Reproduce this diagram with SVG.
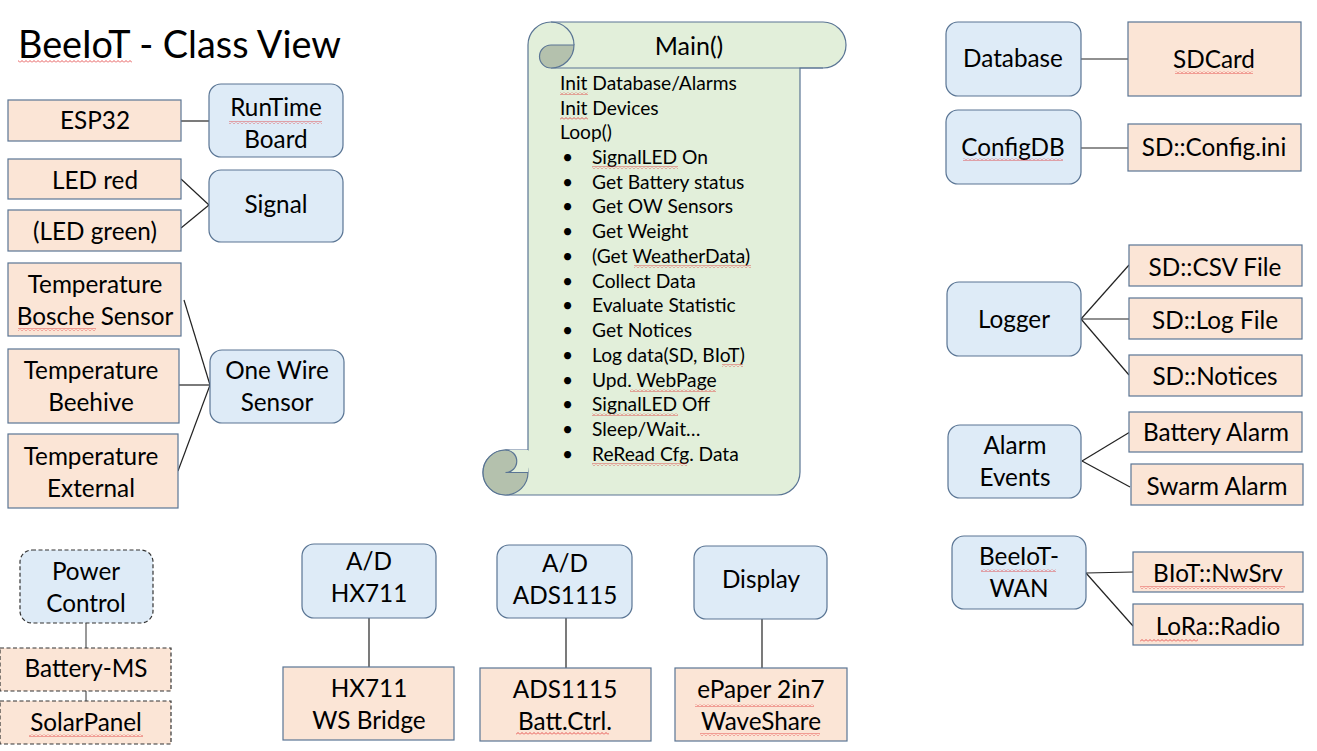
<svg xmlns="http://www.w3.org/2000/svg" width="1317" height="751" viewBox="0 0 1317 751">
<defs>
<style>
text{font-family:Lato,"Open Sans","Liberation Sans",sans-serif;fill:#000}
.t{font-size:24.3px;text-anchor:middle}
.s{font-size:19.2px}
.b{fill:#DEEBF7;stroke:#5A7594;stroke-width:1.2}
.p{fill:#FBE5D6;stroke:#5A7594;stroke-width:1.2}
.d{stroke-dasharray:4 2.5;stroke:#333}
.c line,.c path{stroke:#222;stroke-width:1.2;fill:none}
.sq{fill:url(#sq)}
</style>
<pattern id="sq" patternUnits="userSpaceOnUse" width="4" height="3"><path d="M0,2.5 L2,0.5 L4,2.5" fill="none" stroke="#E03030" stroke-width="0.8"/></pattern>
</defs>
<rect width="1317" height="751" fill="#fff"/>
<text x="18" y="58" style="font-size:37.8px">BeeIoT - Class View</text>
<rect class="sq" x="18" y="60" width="114" height="3"/>

<g class="c" id="connectors">
<line x1="181" y1="121" x2="209" y2="121"/>
<line x1="181" y1="179" x2="209" y2="205"/>
<line x1="181" y1="228" x2="209" y2="205"/>
<line x1="184" y1="300" x2="210" y2="385"/>
<line x1="179" y1="385" x2="210" y2="385"/>
<line x1="178" y1="471" x2="210" y2="385"/>
<line x1="86" y1="623" x2="86" y2="648" style="stroke:#555"/>
<line x1="86" y1="691" x2="86" y2="701" style="stroke:#555"/>
<line x1="369" y1="618" x2="369" y2="667"/>
<line x1="566" y1="618" x2="566" y2="668"/>
<line x1="762" y1="619" x2="762" y2="668"/>
<line x1="1081" y1="59" x2="1128" y2="59"/>
<line x1="1081" y1="148" x2="1128" y2="148"/>
<line x1="1081" y1="319" x2="1129" y2="265"/>
<line x1="1081" y1="319" x2="1129" y2="319"/>
<line x1="1081" y1="319" x2="1129" y2="375"/>
<line x1="1082" y1="461" x2="1130" y2="432"/>
<line x1="1082" y1="461" x2="1130" y2="487"/>
<line x1="1086" y1="573" x2="1133" y2="572"/>
<line x1="1086" y1="573" x2="1133" y2="626"/>
</g>

<g id="main">
<path d="M551,22 L823,22 A23,23 0 0 1 823,68 L800,68 L800,472 A23,23 0 0 1 777,495 L505.5,495 A22.5,22.5 0 0 1 505.5,450 L528,450 L528,45 A23,23 0 0 1 551,22 Z" fill="#E2EFDA" stroke="#5A7594" stroke-width="1.2"/>
<path d="M551,68 L823,68" stroke="#5A7594" stroke-width="1.2"/>
<path d="M551,22 A23,23 0 0 1 574,45" fill="none" stroke="#5A7594" stroke-width="1.2"/>
<path d="M574,45 A23,23 0 0 1 551,68 A11.5,11.5 0 0 1 551,45 Z" fill="#B4C1AD" stroke="#5A7594" stroke-width="1.2"/>
<circle cx="505.5" cy="472.5" r="22.5" fill="#B4C1AD" stroke="#5A7594" stroke-width="1.2"/>
<path d="M505.5,472.5 A11.25,11.25 0 0 0 505.5,450 L528,450 L528,472.5 Z" fill="#E2EFDA"/>
<path d="M528,472.5 L505.5,472.5 A11.25,11.25 0 0 0 505.5,450" fill="none" stroke="#5A7594" stroke-width="1.2"/>
<text x="689" y="55" class="t" style="font-size:25px">Main()</text>
<g class="s">
<text x="560" y="90">Init Database/Alarms</text>
<text x="560" y="115">Init Devices</text>
<text x="560" y="139">Loop()</text>
</g>
<g class="s">
<text x="562" y="164">•</text><text x="592" y="164">SignalLED On</text>
<text x="562" y="189">•</text><text x="592" y="189">Get Battery status</text>
<text x="562" y="213">•</text><text x="592" y="213">Get OW Sensors</text>
<text x="562" y="238">•</text><text x="592" y="238">Get Weight</text>
<text x="562" y="263">•</text><text x="592" y="263">(Get WeatherData)</text>
<text x="562" y="288">•</text><text x="592" y="288">Collect Data</text>
<text x="562" y="312">•</text><text x="592" y="312">Evaluate Statistic</text>
<text x="562" y="337">•</text><text x="592" y="337">Get Notices</text>
<text x="562" y="362">•</text><text x="592" y="362">Log data(SD, BIoT)</text>
<text x="562" y="387">•</text><text x="592" y="387">Upd. WebPage</text>
<text x="562" y="411">•</text><text x="592" y="411">SignalLED Off</text>
<text x="562" y="436">•</text><text x="592" y="436">Sleep/Wait…</text>
<text x="562" y="461">•</text><text x="592" y="461">ReRead Cfg. Data</text>
</g>
<rect class="sq" x="560" y="92" width="28" height="3"/>
<rect class="sq" x="560" y="117" width="28" height="3"/>
<rect class="sq" x="592" y="166" width="86" height="3"/>
<rect class="sq" x="634" y="265" width="117" height="3"/>
<rect class="sq" x="722" y="364" width="21" height="3"/>
<rect class="sq" x="630" y="389" width="86" height="3"/>
<rect class="sq" x="592" y="413" width="86" height="3"/>
<rect class="sq" x="592" y="463" width="95" height="3"/>
</g>

<g id="esp32"><rect class="p" x="8" y="100" width="173" height="41"/><text class="t" x="95" y="129">ESP32</text></g>
<g id="runtime"><rect class="b" x="209" y="84" width="134" height="73" rx="12"/><text class="t" x="276" y="116">RunTime</text><text class="t" x="276" y="148">Board</text><rect class="sq" x="229" y="121" width="93" height="3"/></g>
<g id="ledred"><rect class="p" x="8" y="159" width="173" height="40"/><text class="t" x="95" y="189">LED red</text></g>
<g id="ledgreen"><rect class="p" x="8" y="210" width="173" height="41"/><text class="t" x="95" y="240">(LED green)</text></g>
<g id="signal"><rect class="b" x="209" y="170" width="134" height="72" rx="12"/><text class="t" x="276" y="213">Signal</text></g>
<g id="tbosche"><rect class="p" x="8" y="263" width="173" height="73"/><text class="t" x="95" y="293">Temperature</text><text class="t" x="95" y="325">Bosche Sensor</text><rect class="sq" x="18" y="328" width="78" height="3"/></g>
<g id="tbeehive"><rect class="p" x="8" y="349" width="171" height="74"/><text class="t" x="91" y="379">Temperature</text><text class="t" x="91" y="411">Beehive</text></g>
<g id="texternal"><rect class="p" x="8" y="434" width="170" height="74"/><text class="t" x="91" y="465">Temperature</text><text class="t" x="91" y="497">External</text></g>
<g id="onewire"><rect class="b" x="210" y="350" width="134" height="73" rx="12"/><text class="t" x="277" y="379">One Wire</text><text class="t" x="277" y="411">Sensor</text></g>

<g id="power"><rect class="b d" x="20" y="550" width="133" height="73" rx="12"/><text class="t" x="86" y="580">Power</text><text class="t" x="86" y="612">Control</text></g>
<g id="battery"><rect class="p d" x="0" y="648" width="171" height="43"/><text class="t" x="86" y="677">Battery-MS</text></g>
<g id="solar"><rect class="p d" x="0" y="701" width="171" height="43"/><text class="t" x="86" y="731">SolarPanel</text><rect class="sq" x="29" y="734" width="114" height="3"/></g>

<g id="adhx"><rect class="b" x="302" y="544" width="134" height="74" rx="12"/><text class="t" x="369" y="570">A/D</text><text class="t" x="369" y="602">HX711</text></g>
<g id="hxbridge"><rect class="p" x="283" y="667" width="171" height="73"/><text class="t" x="369" y="697">HX711</text><text class="t" x="369" y="729">WS Bridge</text></g>
<g id="adads"><rect class="b" x="497" y="545" width="135" height="73" rx="12"/><text class="t" x="565" y="572">A/D</text><text class="t" x="565" y="604">ADS1115</text></g>
<g id="adsbatt"><rect class="p" x="480" y="668" width="171" height="73"/><text class="t" x="565" y="698">ADS1115</text><text class="t" x="565" y="730">Batt.Ctrl.</text><rect class="sq" x="516" y="732" width="93" height="3"/></g>
<g id="display"><rect class="b" x="694" y="546" width="133" height="73" rx="12"/><text class="t" x="761" y="588">Display</text></g>
<g id="epaper"><rect class="p" x="675" y="668" width="172" height="73"/><text class="t" x="761" y="698">ePaper 2in7</text><text class="t" x="761" y="730">WaveShare</text><rect class="sq" x="695" y="704" width="119" height="3"/><rect class="sq" x="700" y="733" width="120" height="3"/></g>

<g id="database"><rect class="b" x="946" y="22" width="135" height="74" rx="12"/><text class="t" x="1013" y="67">Database</text></g>
<g id="sdcard"><rect class="p" x="1128" y="22" width="173" height="74"/><text class="t" x="1214" y="68">SDCard</text><rect class="sq" x="1175" y="71" width="78" height="3"/></g>
<g id="configdb"><rect class="b" x="946" y="110" width="135" height="74" rx="12"/><text class="t" x="1013" y="156">ConfigDB</text><rect class="sq" x="963" y="158" width="100" height="3"/></g>
<g id="configini"><rect class="p" x="1128" y="124" width="173" height="47"/><text class="t" x="1214" y="156">SD::Config.ini</text></g>
<g id="logger"><rect class="b" x="947" y="282" width="134" height="74" rx="12"/><text class="t" x="1014" y="328">Logger</text></g>
<g id="csv"><rect class="p" x="1129" y="245" width="173" height="41"/><text class="t" x="1215" y="276">SD::CSV File</text></g>
<g id="logfile"><rect class="p" x="1129" y="298" width="173" height="41"/><text class="t" x="1215" y="329">SD::Log File</text></g>
<g id="notices"><rect class="p" x="1129" y="355" width="173" height="41"/><text class="t" x="1215" y="385">SD::Notices</text></g>
<g id="alarm"><rect class="b" x="948" y="425" width="133" height="73" rx="12"/><text class="t" x="1015" y="454">Alarm</text><text class="t" x="1015" y="486">Events</text></g>
<g id="battalarm"><rect class="p" x="1129" y="412" width="173" height="40"/><text class="t" x="1216" y="441">Battery Alarm</text></g>
<g id="swarm"><rect class="p" x="1131" y="464" width="172" height="41"/><text class="t" x="1217" y="495">Swarm Alarm</text></g>
<g id="wan"><rect class="b" x="952" y="536" width="134" height="73" rx="12"/><text class="t" x="1019" y="565">BeeIoT-</text><text class="t" x="1019" y="597">WAN</text><rect class="sq" x="981" y="569" width="75" height="3"/></g>
<g id="nwsrv"><rect class="p" x="1133" y="552" width="170" height="40"/><text class="t" x="1218" y="582">BIoT::NwSrv</text><rect class="sq" x="1140" y="586" width="145" height="3"/></g>
<g id="lora"><rect class="p" x="1133" y="604" width="170" height="41"/><text class="t" x="1218" y="635">LoRa::Radio</text><rect class="sq" x="1140" y="639" width="58" height="3"/></g>
</svg>
